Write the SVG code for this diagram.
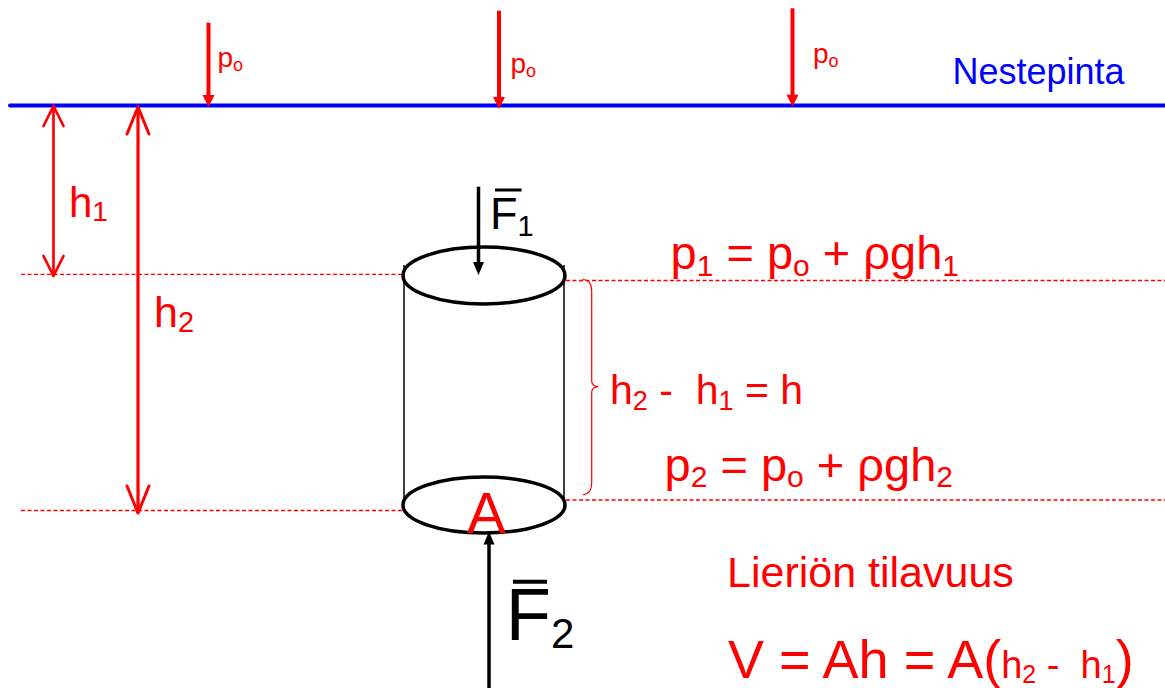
<svg xmlns="http://www.w3.org/2000/svg" width="1165" height="688" viewBox="0 0 1165 688">
  <style>
    text { font-family: "Liberation Sans", Arial, sans-serif; }
    .red { fill: #FF0000; }
    .blk { fill: #000000; }
    .blue { fill: #0000FF; }
    .dash { stroke: #FF0000; stroke-width: 1.3; stroke-dasharray: 4 2.5; fill: none; }
    .parr { stroke: #FF0000; stroke-width: 4; fill: none; }
    .farr { stroke: #000000; stroke-width: 3.5; fill: none; }
    .dim1 { stroke: #FF0000; stroke-width: 2.7; fill: none; }
    .dim2 { stroke: #FF0000; stroke-width: 3.2; fill: none; }
    .ell { stroke: #000000; stroke-width: 3.5; fill: none; }
    .side { stroke: #000000; stroke-width: 1.5; }
    .bar { stroke: #000000; }
  </style>
  <defs>
    <marker id="headRed" markerUnits="userSpaceOnUse" markerWidth="13" markerHeight="13" refX="6" refY="6" orient="auto" overflow="visible">
      <path d="M0,0 L12,6 L0,12 Z" fill="#FF0000"/>
    </marker>
    <marker id="headBlk" markerUnits="userSpaceOnUse" markerWidth="14" markerHeight="12" refX="7" refY="5.5" orient="auto" overflow="visible">
      <path d="M0,0 L13,5.5 L0,11 Z" fill="#000000"/>
    </marker>
    <marker id="vOpen1" markerUnits="userSpaceOnUse" markerWidth="24" markerHeight="24" refX="20" refY="10" orient="auto-start-reverse" overflow="visible">
      <path d="M0,0 L20,10 L0,20" fill="none" stroke="#FF0000" stroke-width="2.7" stroke-linejoin="round" stroke-linecap="round"/>
    </marker>
    <marker id="vOpen2" markerUnits="userSpaceOnUse" markerWidth="30" markerHeight="26" refX="27" refY="11" orient="auto-start-reverse" overflow="visible">
      <path d="M0,0 L27,11 L0,22" fill="none" stroke="#FF0000" stroke-width="3" stroke-linejoin="round" stroke-linecap="round"/>
    </marker>
  </defs>

  <rect x="0" y="0" width="1165" height="688" fill="#FFFFFF"/>

  <g id="surface">
    <line x1="10" y1="105.5" x2="1165" y2="105.5" stroke="#0000FF" stroke-width="4" stroke-linecap="round"/>
    <text x="952.5" y="84" font-size="36" class="blue">Nestepinta</text>
  </g>

  <g id="connectors">
    <!-- p_o pressure arrows -->
    <line class="parr" x1="208.5" y1="22.7" x2="208.5" y2="101" marker-end="url(#headRed)"/>
    <line class="parr" x1="499" y1="10.7" x2="499" y2="103" marker-end="url(#headRed)"/>
    <line class="parr" x1="792.5" y1="8.3" x2="792.5" y2="100.7" marker-end="url(#headRed)"/>
    <!-- depth dimensions -->
    <line class="dim1" x1="53.5" y1="106" x2="53.5" y2="276" marker-start="url(#vOpen1)" marker-end="url(#vOpen1)"/>
    <line class="dim2" x1="138" y1="107" x2="138" y2="513" marker-start="url(#vOpen2)" marker-end="url(#vOpen2)"/>
    <!-- dashed level lines -->
    <line class="dash" x1="21" y1="274.3" x2="403" y2="274.3"/>
    <line class="dash" x1="566" y1="280.5" x2="1165" y2="280.5"/>
    <line class="dash" x1="21" y1="510.5" x2="403" y2="510.5"/>
    <line class="dash" x1="566" y1="500" x2="1165" y2="500"/>
    <!-- brace -->
    <path d="M582.7,279.5 Q591.7,280 591.7,291 L591.7,381 Q592,386.5 598.3,386.7 Q592,387 591.7,392 L591.7,483 Q591.7,494 582.7,495" fill="none" stroke="#FF0000" stroke-width="1.2"/>
  </g>

  <g id="cylinder">
    <line class="side" x1="404" y1="265" x2="404" y2="501"/>
    <line class="side" x1="564" y1="265" x2="564" y2="501"/>
    <ellipse class="ell" cx="484" cy="275.5" rx="81" ry="28.5" fill="#FFFFFF"/>
    <ellipse class="ell" cx="484" cy="505" rx="81" ry="28" fill="#FFFFFF"/>
    <text x="486.4" y="533.3" font-size="58" class="red" text-anchor="middle">A</text>
  </g>

  <g id="force-F1">
    <line class="farr" x1="478.5" y1="186.7" x2="478.5" y2="269" marker-end="url(#headBlk)"/>
    <line class="bar" x1="495" y1="190" x2="521.5" y2="190" stroke-width="3"/>
    <text x="490" y="229" font-size="45" class="blk">F<tspan font-size="29" dy="6.7">1</tspan></text>
  </g>

  <g id="force-F2">
    <line class="farr" x1="489" y1="688" x2="489" y2="537.5" marker-end="url(#headBlk)"/>
    <line class="bar" x1="513" y1="581.7" x2="547" y2="581.7" stroke-width="4"/>
    <text x="505.8" y="640" font-size="74" class="blk">F<tspan font-size="42" dy="8.3">2</tspan></text>
  </g>

  <g id="label-po1">
    <text x="217.5" y="66.5" font-size="28" class="red">p<tspan font-size="18" dy="4">o</tspan></text>
  </g>
  <g id="label-po2">
    <text x="510.5" y="72.8" font-size="28" class="red">p<tspan font-size="18" dy="4">o</tspan></text>
  </g>
  <g id="label-po3">
    <text x="813" y="62.6" font-size="28" class="red">p<tspan font-size="18" dy="4">o</tspan></text>
  </g>

  <g id="label-h1">
    <text x="69" y="216.7" font-size="42" class="red">h<tspan font-size="28" dy="4">1</tspan></text>
  </g>
  <g id="label-h2">
    <text x="154" y="326.7" font-size="43" class="red">h<tspan font-size="29" dy="5">2</tspan></text>
  </g>

  <g id="eq-p1">
    <text x="670.5" y="269" font-size="47" class="red" xml:space="preserve">p<tspan font-size="30" dy="6.7">1</tspan><tspan dy="-6.7"> = p</tspan><tspan font-size="30" dy="6.7">o</tspan><tspan dy="-6.7"> + ρgh</tspan><tspan font-size="30" dy="6.7">1</tspan></text>
  </g>

  <g id="eq-h">
    <text x="610" y="404.3" font-size="41" class="red" xml:space="preserve">h<tspan font-size="27" dy="6">2</tspan><tspan dy="-6"> -  h</tspan><tspan font-size="27" dy="6">1</tspan><tspan dy="-6"> = h</tspan></text>
  </g>

  <g id="eq-p2">
    <text x="664.5" y="480.7" font-size="47" class="red" xml:space="preserve">p<tspan font-size="30" dy="6.7">2</tspan><tspan dy="-6.7"> = p</tspan><tspan font-size="30" dy="6.7">o</tspan><tspan dy="-6.7"> + ρgh</tspan><tspan font-size="30" dy="6.7">2</tspan></text>
  </g>

  <g id="volume">
    <text x="727" y="586.7" font-size="43" class="red">Lieriön tilavuus</text>
    <text x="728" y="678.3" font-size="54" class="red" xml:space="preserve">V = Ah = A(<tspan font-size="38">h</tspan><tspan font-size="25" dy="5">2</tspan><tspan font-size="38" dy="-5"> -  h</tspan><tspan font-size="25" dy="5">1</tspan><tspan dy="-5">)</tspan></text>
  </g>
</svg>
